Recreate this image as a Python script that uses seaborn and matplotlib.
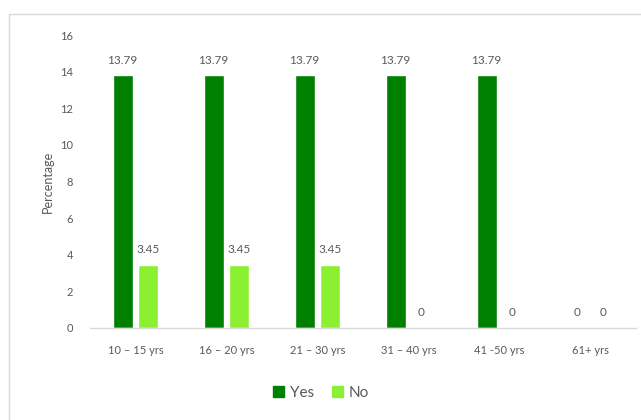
import matplotlib
matplotlib.use("Agg")
import matplotlib.pyplot as plt
from matplotlib.patches import Rectangle
import pandas as pd
import seaborn as sns

# Age groups and the share of respondents answering Yes / No (%)
age_groups = ["10 \u2013 15 yrs", "16 \u2013 20 yrs", "21 \u2013 30 yrs",
              "31 \u2013 40 yrs", "41 -50 yrs", "61+ yrs"]
yes_values = [13.79, 13.79, 13.79, 13.79, 13.79, 0]
no_values = [3.45, 3.45, 3.45, 0, 0, 0]
responses = ["Yes", "No"]
y_ticks = [0, 2, 4, 6, 8, 10, 12, 14, 16]

df = pd.DataFrame({
    "group": age_groups * 2,
    "response": ["Yes"] * len(age_groups) + ["No"] * len(age_groups),
    "value": yes_values + no_values,
})

sns.set_theme(style="white")
plt.rcParams["font.family"] = ["Lato", "DejaVu Sans"]

text_color = "#595959"
palette = {"Yes": "#008000", "No": "#8CF032"}

fig = plt.figure(figsize=(6.41, 4.20), dpi=100)
ax = fig.add_axes([90 / 641, 1 - 328 / 420, (636 - 90) / 641, (328 - 35) / 420])

sns.barplot(data=df, x="group", y="value", hue="response", hue_order=responses,
            order=age_groups, palette=palette, saturation=1, width=0.57, gap=0.23,
            errorbar=None, ax=ax, legend=False)

for cont in ax.containers:
    ax.bar_label(cont, fmt="%g", padding=7, fontsize=8.5, color=text_color)

ax.set_ylim(0, 16)
ax.set_xlim(-0.5, len(age_groups) - 0.5)
ax.set_yticks(y_ticks)
ax.set_xlabel("")
ax.set_ylabel("Percentage", fontsize=9, color=text_color, labelpad=5)
ax.tick_params(axis="y", length=0, pad=12, labelsize=8, labelcolor=text_color)
ax.tick_params(axis="x", length=0, pad=12, labelsize=8, labelcolor=text_color)

for side in ["top", "right", "left"]:
    ax.spines[side].set_visible(False)
ax.spines["bottom"].set_color("#d9d9d9")
ax.spines["bottom"].set_linewidth(1)

# Legend below the plot
handles = [Rectangle((0, 0), 1, 1, color=palette[r]) for r in responses]
fig.legend(handles, responses, loc="center", bbox_to_anchor=(321 / 641, 1 - 393 / 420),
           ncol=2, frameon=False, fontsize=11, labelcolor=text_color,
           handlelength=0.7, handleheight=0.7, handletextpad=0.4, columnspacing=1.2)

# Chart frame
fig.patches.append(Rectangle((9 / 641, -0.05), 1.2, 1 - 14 / 420 + 0.05,
                             transform=fig.transFigure, fill=False,
                             edgecolor="#d9d9d9", linewidth=1))

fig.savefig("out.png", dpi=100)
